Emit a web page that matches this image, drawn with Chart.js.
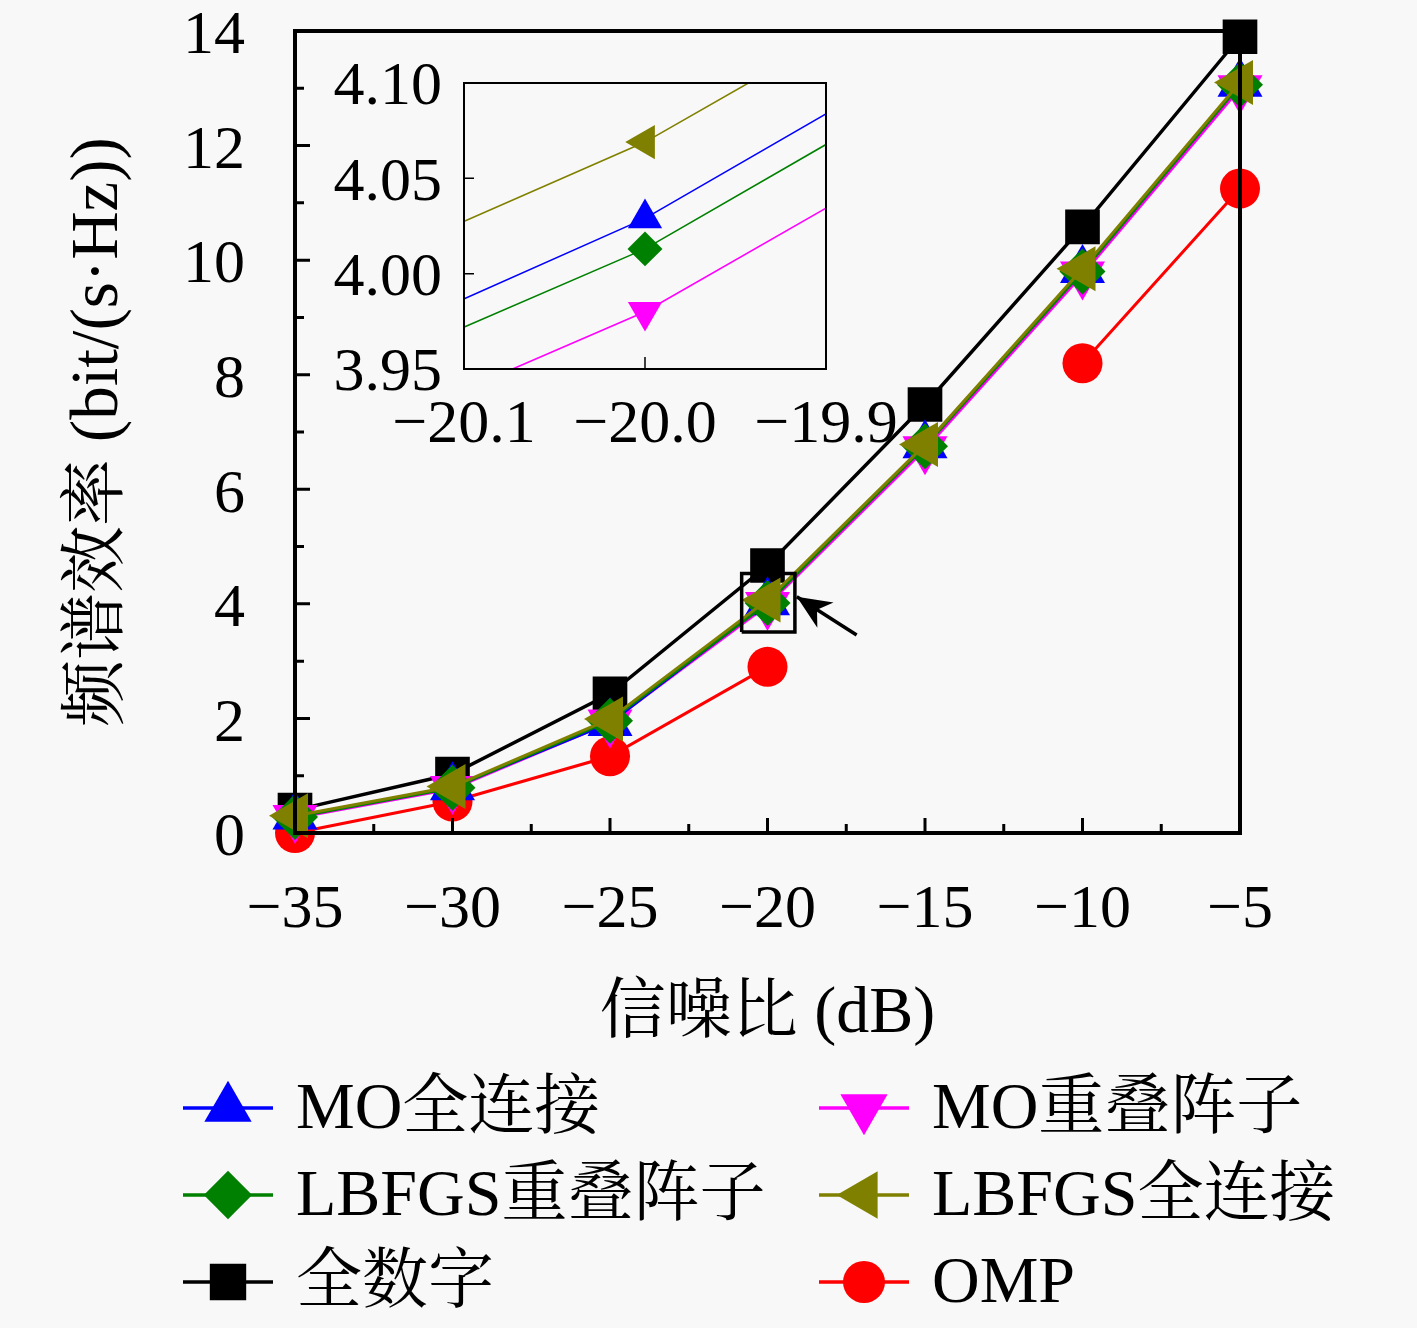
<!DOCTYPE html>
<html>
<head>
<meta charset="utf-8">
<script src="https://cdn.jsdelivr.net/npm/chart.js@4/dist/chart.umd.min.js"></script>
<style>
html,body{margin:0;padding:0;background:#f8f8f8;}
#wrap{position:relative;width:1417px;height:1328px;overflow:hidden;}
#main{position:absolute;left:0;top:0;}
#inset{position:absolute;left:300px;top:40px;}
</style>
</head>
<body>
<div id="wrap">
<canvas id="main" width="1417" height="1328"></canvas>
<canvas id="inset" width="600" height="440"></canvas>
</div>
<script>
// ---------------- data ----------------
const snr = [-35, -30, -25, -20, -15, -10, -5];
const moFull       = [0.29, 0.80, 1.92, 4.029, 6.77, 9.83, 13.08];
const moOverlap    = [0.26, 0.77, 1.93, 3.980, 6.70, 9.75, 13.00];
const lbfgsOverlap = [0.28, 0.79, 1.96, 4.013, 6.75, 9.80, 13.06];
const lbfgsFull    = [0.30, 0.81, 1.99, 4.069, 6.78, 9.85, 13.10];
const fullDigital  = [0.40, 1.03, 2.43, 4.67, 7.48, 10.58, 13.90];
const omp          = [0.00, 0.55, 1.34, 2.90, null, 8.20, 11.25];

const xTicks = [-35, -30, -25, -20, -15, -10, -5];
const yTicks = [0, 2, 4, 6, 8, 10, 12, 14];
const insetXTicks = [-20.1, -20.0, -19.9];
const insetYTicks = [3.95, 4.00, 4.05, 4.10];

// zoom marker box and arrow (data coordinates)
const zoomBoxX = [-20.82, -19.13];
const zoomBoxY = [3.51, 4.53];
const arrowX = [-17.17, -19.07];
const arrowY = [3.456, 4.125];

const labels = {
  moFull: 'MO全连接', moOverlap: 'MO重叠阵子', lbfgsOverlap: 'LBFGS重叠阵子',
  lbfgsFull: 'LBFGS全连接', fullDigital: '全数字', omp: 'OMP'
};

// ---------------- helpers ----------------
const SERIF = '"Liberation Serif", "Noto Serif CJK SC", "Noto Sans CJK SC", serif';
Chart.defaults.font.family = SERIF;
Chart.defaults.color = '#000';

const pts = arr => snr.map((x, i) => ({x: x, y: arr[i]}));
const minus = s => s.replace('-', '\u2212');

function series(key, arr, color, style, rot, r, lw) {
  return {
    label: labels[key], data: pts(arr),
    borderColor: color, backgroundColor: color,
    pointBackgroundColor: color, pointBorderColor: color,
    pointStyle: style, pointRotation: rot, pointRadius: r, pointBorderWidth: 0,
    pointHoverRadius: r, borderWidth: lw, tension: 0, spanGaps: false, clip: false
  };
}
function makeSeries(scale, lw) {
  // index 0 drawn on top in Chart.js
  return [
    series('lbfgsFull', lbfgsFull, '#808000', 'triangle', -90, 26 * scale, lw),
    series('lbfgsOverlap', lbfgsOverlap, '#008000', 'rectRot', 0, 23 * scale, lw),
    series('moFull', moFull, '#0000ff', 'triangle', 0, 26 * scale, lw),
    series('moOverlap', moOverlap, '#ff00ff', 'triangle', 180, 26 * scale, lw),
    series('fullDigital', fullDigital, '#000000', 'rect', 0, 24.5 * scale, lw * 1.15),
    series('omp', omp, '#ff0000', 'circle', 0, 20 * scale, lw)
  ];
}

const noPad = s => { s.paddingTop = 0; s.paddingBottom = 0; s.paddingLeft = 0; s.paddingRight = 0; };

const frameTicks = {
  id: 'frameTicks',
  afterDraw(chart, args, o) {
    const {ctx, chartArea: a} = chart;
    const x = chart.scales.x, y = chart.scales.y;
    ctx.save();
    ctx.strokeStyle = '#000';
    ctx.lineWidth = o.tickWidth;
    ctx.beginPath();
    o.xMajor.forEach(v => { const p = x.getPixelForValue(v); ctx.moveTo(p, a.bottom); ctx.lineTo(p, a.bottom - o.xMajorLen); });
    o.xMinor.forEach(v => { const p = x.getPixelForValue(v); ctx.moveTo(p, a.bottom); ctx.lineTo(p, a.bottom - o.xMinorLen); });
    o.yMajor.forEach(v => { const p = y.getPixelForValue(v); ctx.moveTo(a.left, p); ctx.lineTo(a.left + o.yMajorLen, p); });
    o.yMinor.forEach(v => { const p = y.getPixelForValue(v); ctx.moveTo(a.left, p); ctx.lineTo(a.left + o.yMinorLen, p); });
    ctx.stroke();
    ctx.lineWidth = o.frameWidth;
    ctx.strokeRect(a.left, a.top, a.right - a.left, a.bottom - a.top);
    ctx.restore();
  }
};

const arrowHead = {
  id: 'arrowHead',
  afterDatasetsDraw(chart, args, o) {
    if (o.index === undefined) return;
    const meta = chart.getDatasetMeta(o.index);
    const p0 = meta.data[0], p1 = meta.data[1];
    if (!p0 || !p1) return;
    const ang = Math.atan2(p1.y - p0.y, p1.x - p0.x);
    const ctx = chart.ctx;
    ctx.save();
    ctx.translate(p1.x, p1.y);
    ctx.rotate(ang);
    ctx.fillStyle = '#000';
    ctx.beginPath();
    ctx.moveTo(0, 0);
    ctx.lineTo(-34, -15);
    ctx.lineTo(-24, 0);
    ctx.lineTo(-34, 15);
    ctx.closePath();
    ctx.fill();
    ctx.restore();
  }
};

const customLegend = {
  id: 'customLegend',
  afterDraw(chart, args, o) {
    if (!o.items) return;
    const ctx = chart.ctx;
    ctx.save();
    o.items.forEach(it => {
      const ds = chart.data.datasets[it.ds];
      const cx = o.colX[it.col], cy = o.rowY[it.row];
      ctx.strokeStyle = ds.borderColor;
      ctx.lineWidth = 3.5;
      ctx.beginPath();
      ctx.moveTo(cx, cy); ctx.lineTo(cx + o.lineLen, cy);
      ctx.stroke();
      ctx.fillStyle = ds.pointBackgroundColor;
      Chart.helpers.drawPoint(ctx, {pointStyle: ds.pointStyle, rotation: ds.pointRotation,
        radius: ds.pointRadius * o.markerScale, borderWidth: 0}, cx + o.lineLen / 2, cy);
      ctx.fillStyle = '#000';
      ctx.font = o.font;
      ctx.textBaseline = 'middle';
      ctx.textAlign = 'left';
      ctx.fillText(ds.label, cx + o.textGap, cy + 3);
    });
    ctx.restore();
  }
};

Chart.register(frameTicks, arrowHead, customLegend);

// ---------------- main chart ----------------
const mainSeries = makeSeries(1, 3);
const boxDs = {
  label: 'box', data: [
    {x: zoomBoxX[0], y: zoomBoxY[0]}, {x: zoomBoxX[1], y: zoomBoxY[0]},
    {x: zoomBoxX[1], y: zoomBoxY[1]}, {x: zoomBoxX[0], y: zoomBoxY[1]},
    {x: zoomBoxX[0], y: zoomBoxY[0]}],
  borderColor: '#000', borderWidth: 3.5, pointRadius: 0, tension: 0, clip: false
};
const arrowDs = {
  label: 'arrow', data: [{x: arrowX[0], y: arrowY[0]}, {x: arrowX[1], y: arrowY[1]}],
  borderColor: '#000', borderWidth: 3.5, pointRadius: 0, tension: 0, clip: false
};
const mainDatasets = [boxDs, arrowDs].concat(mainSeries);
// indices of series inside mainDatasets
const idx = {lbfgsFull: 2, lbfgsOverlap: 3, moFull: 4, moOverlap: 5, fullDigital: 6, omp: 7};

const xMinor = [], yMinor = [];
for (let v = -32.5; v < -5; v += 5) xMinor.push(v);
for (let v = 1; v < 14; v += 2) yMinor.push(v);

new Chart(document.getElementById('main'), {
  type: 'line',
  data: {datasets: mainDatasets},
  options: {
    responsive: false, animation: false, events: [],
    layout: {padding: {left: 0, top: 31, right: 177, bottom: 265}},
    plugins: {
      legend: {display: false}, tooltip: {enabled: false},
      frameTicks: {tickWidth: 3, frameWidth: 4, xMajor: xTicks, xMinor: xMinor, yMajor: yTicks, yMinor: yMinor,
        xMajorLen: 15, xMinorLen: 9, yMajorLen: 15, yMinorLen: 9},
      arrowHead: {index: 1},
      customLegend: {
        font: '66px ' + SERIF, lineLen: 90, textGap: 113, markerScale: 1.05,
        colX: [183, 819], rowY: [1108, 1195, 1282],
        items: [
          {ds: idx.moFull, col: 0, row: 0}, {ds: idx.moOverlap, col: 1, row: 0},
          {ds: idx.lbfgsOverlap, col: 0, row: 1}, {ds: idx.lbfgsFull, col: 1, row: 1},
          {ds: idx.fullDigital, col: 0, row: 2}, {ds: idx.omp, col: 1, row: 2}
        ]
      }
    },
    scales: {
      x: {
        type: 'linear', min: -35, max: -5,
        afterBuildTicks: s => { s.ticks = xTicks.map(v => ({value: v})); },
        afterFit: s => { s.height = 230; noPad(s); },
        grid: {display: false, drawTicks: false}, border: {display: false},
        ticks: {padding: 47, autoSkip: false, maxRotation: 0, font: {size: 62, lineHeight: 1},
          callback: v => minus(String(v))},
        title: {display: true, text: '信噪比 (dB)', font: {size: 66, lineHeight: 1}, padding: {top: 0, bottom: 15}}
      },
      y: {
        type: 'linear', min: 0, max: 14,
        afterBuildTicks: s => { s.ticks = yTicks.map(v => ({value: v})); },
        afterFit: s => { s.width = 295; noPad(s); },
        grid: {display: false, drawTicks: false}, border: {display: false},
        ticks: {padding: 50, labelOffset: 6, font: {size: 62, lineHeight: 1}, callback: v => String(v)},
        title: {display: true, text: '频谱效率 (bit/(s·Hz))', font: {size: 67, lineHeight: 1}, padding: {top: 66, bottom: 0}}
      }
    }
  }
});

// ---------------- inset chart ----------------
new Chart(document.getElementById('inset'), {
  type: 'line',
  data: {datasets: makeSeries(0.76, 1.6).map(d => Object.assign(d, {clip: 0}))},
  options: {
    responsive: false, animation: false, events: [],
    layout: {padding: {left: 0, top: 43, right: 74, bottom: 0}},
    plugins: {
      legend: {display: false}, tooltip: {enabled: false},
      frameTicks: {tickWidth: 1.5, frameWidth: 2, xMajor: [-20.0], xMinor: [], yMajor: [4.00, 4.05], yMinor: [],
        xMajorLen: 12, xMinorLen: 0, yMajorLen: 10, yMinorLen: 0}
    },
    scales: {
      x: {
        type: 'linear', min: -20.1, max: -19.9,
        afterBuildTicks: s => { s.ticks = insetXTicks.map(v => ({value: v})); },
        afterFit: s => { s.height = 111; noPad(s); },
        grid: {display: false, drawTicks: false}, border: {display: false},
        ticks: {padding: 26, autoSkip: false, maxRotation: 0, font: {size: 62, lineHeight: 1},
          callback: v => minus(v.toFixed(1))}
      },
      y: {
        type: 'linear', min: 3.95, max: 4.10,
        afterBuildTicks: s => { s.ticks = insetYTicks.map(v => ({value: v})); },
        afterFit: s => { s.width = 164; noPad(s); },
        grid: {display: false, drawTicks: false}, border: {display: false},
        ticks: {padding: 22, labelOffset: 5, font: {size: 62, lineHeight: 1}, callback: v => v.toFixed(2)}
      }
    }
  }
});
</script>
</body>
</html>
